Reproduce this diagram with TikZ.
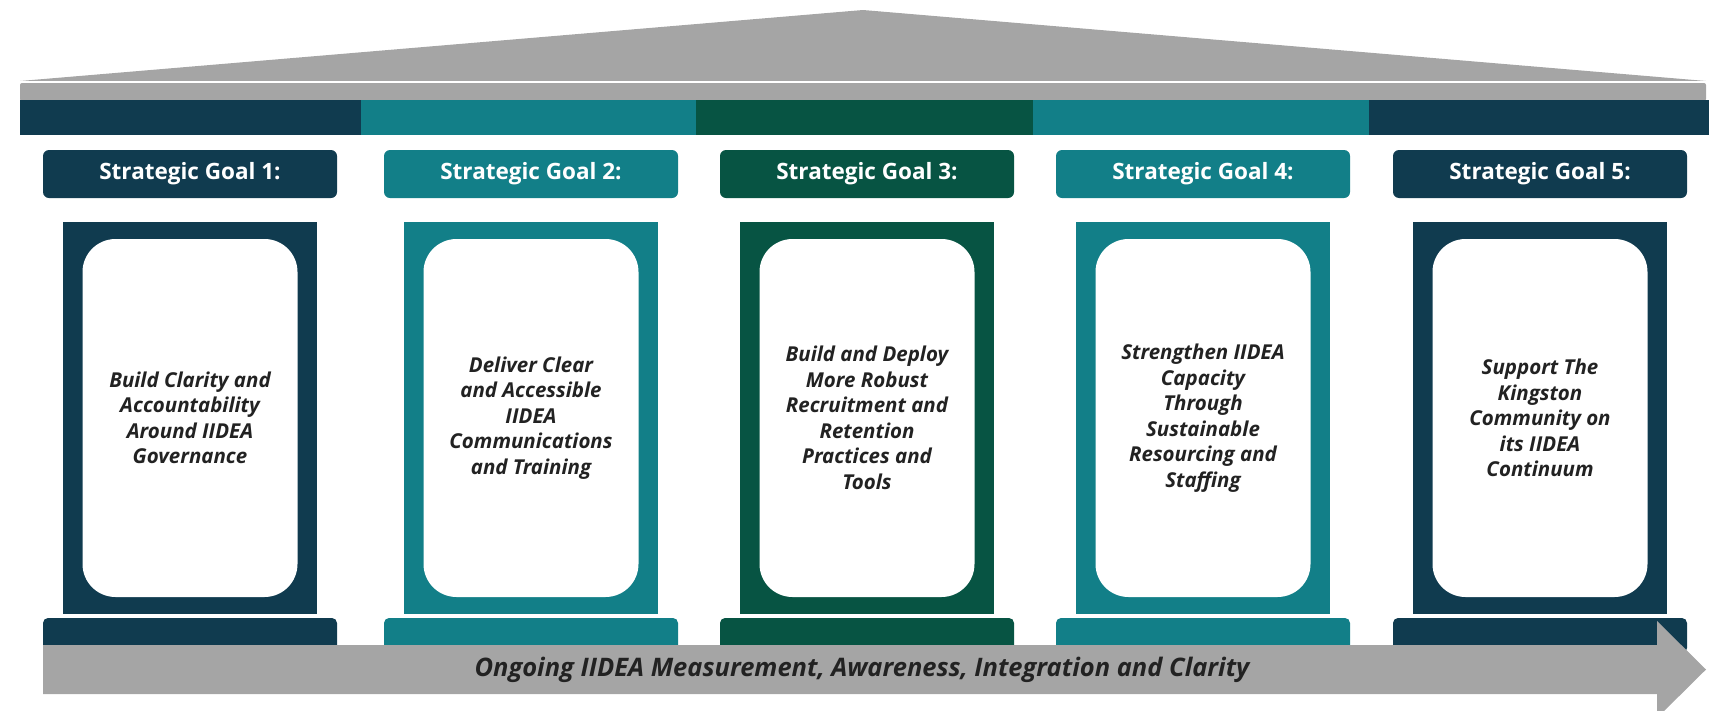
\documentclass[tikz,border=0pt]{standalone}
\usepackage{fontspec}
\setmainfont{Open Sans}
\definecolor{navy}{HTML}{103B4F}
\definecolor{teal}{HTML}{127F88}
\definecolor{dgreen}{HTML}{075443}
\definecolor{roofgray}{HTML}{A5A5A5}
\definecolor{bodytext}{HTML}{222222}
\tikzset{
  hdr/.style={fill=#1, rounded corners=6pt, minimum width=294pt, minimum height=48pt, inner sep=0pt,
    text=white, font=\fontsize{22.5}{26}\selectfont\bfseries},
  colbox/.style={fill=#1, minimum width=254pt, minimum height=392pt, inner sep=0pt},
  innerbox/.style={fill=white, rounded corners=33pt, minimum width=215pt, minimum height=358pt, inner sep=0pt},
  goaltext/.style={align=center, text=bodytext, font=\fontsize{20.5}{25.5}\selectfont\bfseries\itshape},
  basebox/.style={fill=#1, rounded corners=5pt, minimum width=294pt, minimum height=35pt, inner sep=0pt},
}
\begin{document}
\begin{tikzpicture}[x=1pt,y=-1pt]
\useasboundingbox (0,0) rectangle (1709,710);
% roof
\fill[roofgray] (20,81) -- (863,10) -- (1706,81) -- cycle;
\fill[roofgray, rounded corners=2pt] (20,83) rectangle (1706,101);
\draw[white, line width=1.2pt] (20,82) -- (1706,82);
% band
\fill[navy]   (20,100) rectangle (361,135);
\fill[teal]   (361,100) rectangle (696,135);
\fill[dgreen] (696,100) rectangle (1033,135);
\fill[teal]   (1033,100) rectangle (1369,135);
\fill[navy]   (1369,100) rectangle (1709,135);
% goals
\foreach \i/\cx/\c/\txt in {
  1/190/navy/{Build Clarity and\\Accountability\\Around IIDEA\\Governance},
  2/531/teal/{Deliver Clear\\and Accessible\\IIDEA\\Communications\\and Training},
  3/867/dgreen/{Build and Deploy\\More Robust\\Recruitment and\\Retention\\Practices and\\Tools},
  4/1203/teal/{Strengthen IIDEA\\Capacity\\Through\\Sustainable\\Resourcing and\\Staffing},
  5/1540/navy/{Support The\\Kingston\\Community on\\its IIDEA\\Continuum}} {
  \node[hdr=\c] (h\i) at (\cx,174) {Strategic Goal \i:};
  \node[colbox=\c] (c\i) at (\cx,418) {};
  \node[innerbox] (in\i) at (\cx,418) {};
  \node[goaltext] (t\i) at (\cx,418) {\txt};
  \node[basebox=\c] (b\i) at (\cx,635.5) {};
}
% arrow
\fill[roofgray] (43,645) -- (1657,645) -- (1657,621) -- (1706,669.5) -- (1657,718) -- (1657,694) -- (43,694) -- cycle;
\node[text=bodytext, font=\fontsize{25.5}{30}\selectfont\bfseries\itshape] (arrowtext) at (862,669.5)
  {Ongoing IIDEA Measurement, Awareness, Integration and Clarity};
\end{tikzpicture}
\end{document}
